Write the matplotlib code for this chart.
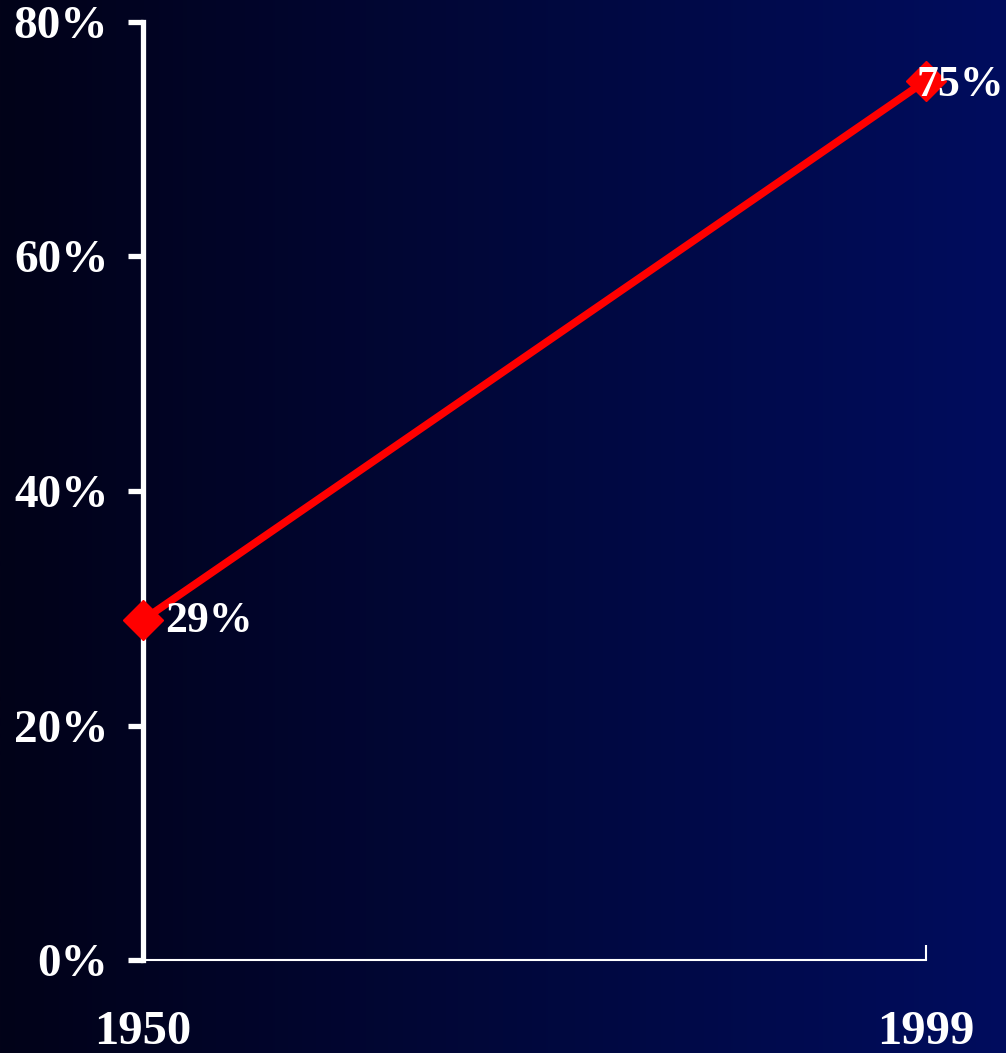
import numpy as np
import matplotlib.pyplot as plt

years = [1950, 1999]
share = [29, 75]
point_labels = ["29%", "75%"]
yticks = [0, 20, 40, 60, 80]
ytick_labels = ["0%", "20%", "40%", "60%", "80%"]

plt.rcParams['font.family'] = ['Liberation Serif', 'DejaVu Serif']
plt.rcParams['font.weight'] = 'bold'

W, H = 1006, 1053
fig = plt.figure(figsize=(W / 100, H / 100), dpi=100)

# gradient background, black on the left to navy on the right
bg = fig.add_axes([0, 0, 1, 1], zorder=-1)
t = np.linspace(0, 1, 512)
left = np.array([2, 2, 24]) / 255.0
right = np.array([0, 13, 94]) / 255.0
grad = left[None, :] + t[:, None] * (right - left)[None, :]
bg.imshow(grad[None, :, :], aspect='auto', extent=[0, 1, 0, 1])
bg.axis('off')

ax = fig.add_axes([143 / W, (H - 960) / H, (926 - 143) / W, (960 - 22) / H])
ax.patch.set_alpha(0)
ax.set_xlim(1950, 1999)
ax.set_ylim(0, 80)

ax.plot(years, share, color='#ff0000', lw=5.5, marker='D', ms=20,
        clip_on=False, zorder=5)

# label offsets in points
offsets = [(16, -1), (-6.5, -3)]
for x, y, s, off in zip(years, share, point_labels, offsets):
    ax.annotate(s, (x, y), xytext=off, textcoords='offset points',
                ha='left', va='center', color='white', fontsize=31.5,
                fontweight='bold', zorder=6, annotation_clip=False)

for s in ['top', 'right']:
    ax.spines[s].set_visible(False)
ax.spines['left'].set_color('white')
ax.spines['left'].set_linewidth(3.8)
ax.spines['bottom'].set_color('white')
ax.spines['bottom'].set_linewidth(1.5)

ax.set_yticks(yticks)
ax.set_yticklabels(ytick_labels)
ax.tick_params(axis='y', colors='white', direction='out', length=11, width=3.8,
               pad=14, labelsize=34)
ax.set_xticks(years)
ax.set_xticklabels([str(y) for y in years])
ax.tick_params(axis='x', colors='white', direction='in', length=11, width=1.5,
               pad=36, labelsize=35)

fig.savefig('out.png', dpi=100)
